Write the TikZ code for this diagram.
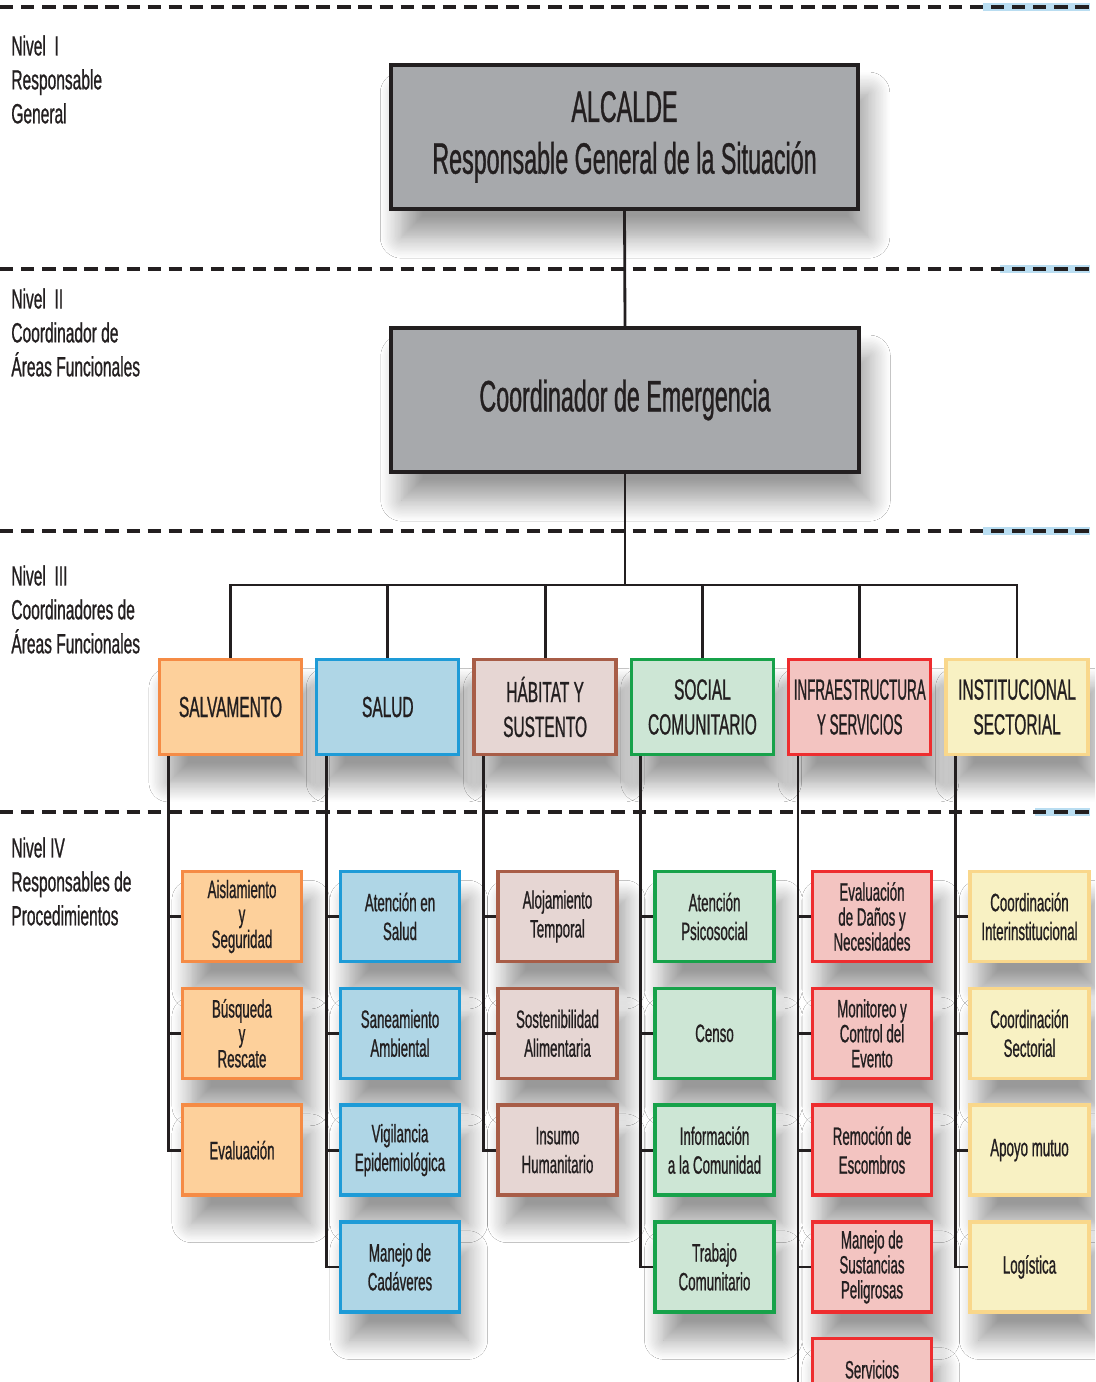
\documentclass[tikz,border=0pt]{standalone}
\usepackage{fontspec}
\setmainfont{Liberation Sans}[FakeStretch=0.53,FakeBold=0.8]
\usetikzlibrary{positioning,shadows.blur}

\definecolor{txtdark}{HTML}{231F20}
\definecolor{boxgray}{HTML}{A7A9AC}
\definecolor{salvfill}{HTML}{FDD09B}
\definecolor{salvline}{HTML}{F58B45}
\definecolor{saludfill}{HTML}{AFD6E6}
\definecolor{saludline}{HTML}{1E9BD7}
\definecolor{habfill}{HTML}{E6D6D3}
\definecolor{habline}{HTML}{A85D47}
\definecolor{socfill}{HTML}{CDE6D5}
\definecolor{socline}{HTML}{17A24A}
\definecolor{infrafill}{HTML}{F3C4C1}
\definecolor{infraline}{HTML}{EE2D2F}
\definecolor{instfill}{HTML}{F8F1C3}
\definecolor{instline}{HTML}{F9D78B}
\definecolor{dashblue}{HTML}{B9DDF1}

\tikzset{
	jefebox/.style={draw=txtdark, line width=2.3pt, fill=boxgray,
		minimum width=9.35cm, minimum height=2.88cm, align=center, text=txtdark,
		font=\fontsize{25}{29.5}\selectfont,
		blur shadow={shadow xshift=6pt, shadow yshift=-16pt, shadow blur radius=12pt,
			shadow blur steps=16, shadow opacity=40}},
	areabox/.style 2 args={draw=#2, fill=#1, line width=1.9pt,
		minimum width=2.84cm, minimum height=1.9cm, inner xsep=0pt, align=center, text=txtdark,
		font=\fontsize{16.6}{19.8}\selectfont,
		blur shadow={shadow xshift=5pt, shadow yshift=-16pt, shadow blur radius=11pt,
			shadow blur steps=16, shadow opacity=40}},
	procbox/.style 2 args={draw=#2, fill=#1, line width=1.9pt,
		minimum width=2.38cm, minimum height=1.8cm, inner xsep=0pt, align=center, text=txtdark,
		font=\fontsize{14.3}{16.4}\selectfont,
		blur shadow={shadow xshift=5pt, shadow yshift=-16pt, shadow blur radius=11pt,
			shadow blur steps=16, shadow opacity=40}},
	tight/.style={font=\fontsize{14.3}{14.2}\selectfont},
	nivel/.style={anchor=north west, inner sep=0pt, align=left, text=txtdark,
		font=\fontsize{15.8}{19.3}\selectfont\addfontfeatures{FakeStretch=0.56}},
	conn/.style={draw=txtdark, line width=1.6pt},
	nivelsep/.style={draw=txtdark, line width=2.5pt, dash pattern=on 7.6pt off 4.4pt}
}

\begin{document}
\begin{tikzpicture}[x=0.02cm, y=-0.02cm]
	\clip (0,0) rectangle (1095,1382);
	\fill[white] (0,0) rectangle (1095,1382);
	
	% separadores de nivel
	\draw[dashblue, line width=4pt] (983,7) -- (1090,7);
	\draw[dashblue, line width=4pt] (1000,269) -- (1090,269);
	\draw[dashblue, line width=4pt] (983,531) -- (1090,531);
	\draw[dashblue, line width=4pt] (1035,812) -- (1090,812);
	\draw[nivelsep] (0,7) -- (1090,7);
	\draw[nivelsep] (0,269) -- (1090,269);
	\draw[nivelsep] (0,531) -- (1090,531);
	\draw[nivelsep] (0,812) -- (1090,812);
	
	\node[nivel] (niv1) at (11,35) {Nivel\ \ I\\Responsable\\General};
	\node[nivel] (niv2) at (11,288) {Nivel\ \ II\\Coordinador de\\Áreas Funcionales};
	\node[nivel] (niv3) at (11,565) {Nivel\ \ III\\Coordinadores de\\Áreas Funcionales};
	\node[nivel] (niv4) at (11,837) {Nivel IV\\Responsables de\\Procedimientos};
	
	\node[jefebox] (alcalde) at (624.5,137) {ALCALDE\\Responsable General de la Situación};
	\node[jefebox] (coord) at (625,400) {Coordinador de Emergencia};
	\coordinate (bus) at (625,585);
	
	% nivel III
	\node[areabox={salvfill}{salvline}] (salv) at (230.5,707) {SALVAMENTO};
	\node[areabox={saludfill}{saludline}, right=0.24cm of salv] (salud) {SALUD};
	\node[areabox={habfill}{habline}, right=0.24cm of salud] (habitat) {HÁBITAT Y\\SUSTENTO};
	\node[areabox={socfill}{socline}, right=0.24cm of habitat] (social) {SOCIAL\\COMUNITARIO};
	\node[areabox={infrafill}{infraline}, right=0.24cm of social,
		font=\fontsize{16.6}{19.8}\selectfont\addfontfeatures{FakeStretch=0.46}] (infra) {INFRAESTRUCTURA\\Y SERVICIOS};
	\node[areabox={instfill}{instline}, right=0.24cm of infra] (inst) {INSTITUCIONAL\\SECTORIAL};
	
	\draw[conn] (alcalde.south) -- (coord.north);
	\draw[conn] (coord.south) -- (bus);
	\draw[conn] (bus) -| (salv.north);
	\draw[conn] (bus) -| (salud.north);
	\draw[conn] (bus) -| (habitat.north);
	\draw[conn] (bus) -| (social.north);
	\draw[conn] (bus) -| (infra.north);
	\draw[conn] (bus) -| (inst.north);
	
	% nivel IV
	\node[procbox={salvfill}{salvline}, tight] (salv1) at (242,916.5) {Aislamiento\\y\\Seguridad};
	\node[procbox={salvfill}{salvline}, tight, below=0.47cm of salv1] (salv2) {Búsqueda\\y\\Rescate};
	\node[procbox={salvfill}{salvline}, below=0.47cm of salv2] (salv3) {Evaluación};
	
	\node[procbox={saludfill}{saludline}] (salud1) at (400,916.5) {Atención en\\Salud};
	\node[procbox={saludfill}{saludline}, below=0.47cm of salud1] (salud2) {Saneamiento\\Ambiental};
	\node[procbox={saludfill}{saludline}, below=0.47cm of salud2] (salud3) {Vigilancia\\Epidemiológica};
	\node[procbox={saludfill}{saludline}, below=0.47cm of salud3] (salud4) {Manejo de\\Cadáveres};
	
	\node[procbox={habfill}{habline}] (hab1) at (557.5,916.5) {Alojamiento\\Temporal};
	\node[procbox={habfill}{habline}, below=0.47cm of hab1] (hab2) {Sostenibilidad\\Alimentaria};
	\node[procbox={habfill}{habline}, below=0.47cm of hab2] (hab3) {Insumo\\Humanitario};
	
	\node[procbox={socfill}{socline}] (soc1) at (714.5,916.5) {Atención\\Psicosocial};
	\node[procbox={socfill}{socline}, below=0.47cm of soc1] (soc2) {Censo};
	\node[procbox={socfill}{socline}, below=0.47cm of soc2] (soc3) {Información\\a la Comunidad};
	\node[procbox={socfill}{socline}, below=0.47cm of soc3] (soc4) {Trabajo\\Comunitario};
	
	\node[procbox={infrafill}{infraline}, tight] (inf1) at (872,916.5) {Evaluación\\de Daños y\\Necesidades};
	\node[procbox={infrafill}{infraline}, tight, below=0.47cm of inf1] (inf2) {Monitoreo y\\Control del\\Evento};
	\node[procbox={infrafill}{infraline}, below=0.47cm of inf2] (inf3) {Remoción de\\Escombros};
	\node[procbox={infrafill}{infraline}, tight, below=0.47cm of inf3] (inf4) {Manejo de\\Sustancias\\Peligrosas};
	\node[procbox={infrafill}{infraline}, below=0.47cm of inf4] (inf5) {Servicios\\ \mbox{}};
	
	\node[procbox={instfill}{instline}] (ins1) at (1029.5,916.5) {Coordinación\\Interinstitucional};
	\node[procbox={instfill}{instline}, below=0.47cm of ins1] (ins2) {Coordinación\\Sectorial};
	\node[procbox={instfill}{instline}, below=0.47cm of ins2] (ins3) {Apoyo mutuo};
	\node[procbox={instfill}{instline}, below=0.47cm of ins3] (ins4) {Logística};
	
	\draw[conn] ([xshift=0.22cm]salv.south west) |- (salv1.west);
	\draw[conn] ([xshift=0.22cm]salv.south west) |- (salv2.west);
	\draw[conn] ([xshift=0.22cm]salv.south west) |- (salv3.west);
	\draw[conn] ([xshift=0.22cm]salud.south west) |- (salud1.west);
	\draw[conn] ([xshift=0.22cm]salud.south west) |- (salud2.west);
	\draw[conn] ([xshift=0.22cm]salud.south west) |- (salud3.west);
	\draw[conn] ([xshift=0.22cm]salud.south west) |- (salud4.west);
	\draw[conn] ([xshift=0.22cm]habitat.south west) |- (hab1.west);
	\draw[conn] ([xshift=0.22cm]habitat.south west) |- (hab2.west);
	\draw[conn] ([xshift=0.22cm]habitat.south west) |- (hab3.west);
	\draw[conn] ([xshift=0.22cm]social.south west) |- (soc1.west);
	\draw[conn] ([xshift=0.22cm]social.south west) |- (soc2.west);
	\draw[conn] ([xshift=0.22cm]social.south west) |- (soc3.west);
	\draw[conn] ([xshift=0.22cm]social.south west) |- (soc4.west);
	\draw[conn] ([xshift=0.22cm]infra.south west) |- (inf1.west);
	\draw[conn] ([xshift=0.22cm]infra.south west) |- (inf2.west);
	\draw[conn] ([xshift=0.22cm]infra.south west) |- (inf3.west);
	\draw[conn] ([xshift=0.22cm]infra.south west) |- (inf4.west);
	\draw[conn] ([xshift=0.22cm]infra.south west) |- (inf5.west);
	\draw[conn] ([xshift=0.22cm]inst.south west) |- (ins1.west);
	\draw[conn] ([xshift=0.22cm]inst.south west) |- (ins2.west);
	\draw[conn] ([xshift=0.22cm]inst.south west) |- (ins3.west);
	\draw[conn] ([xshift=0.22cm]inst.south west) |- (ins4.west);
	
\end{tikzpicture}
\end{document}
